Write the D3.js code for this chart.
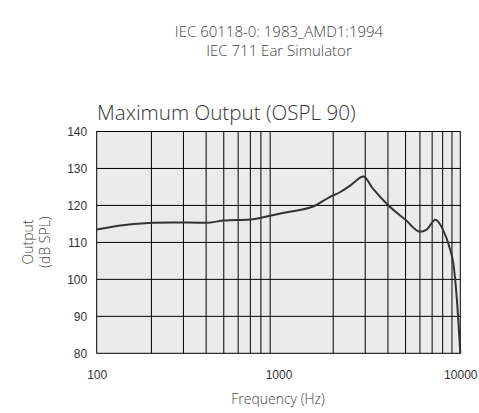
<!DOCTYPE html>
<html>
<head>
<meta charset="utf-8">
<script src="https://cdn.jsdelivr.net/npm/d3@7"></script>
<style>
  body { margin: 0; background: #fff; }
  svg { display: block; }
</style>
</head>
<body>
<svg id="chart" width="479" height="413"></svg>
<script>
// header + title text
var headerLines = ["IEC 60118-0: 1983_AMD1:1994", "IEC 711 Ear Simulator"];
var chartTitle = "Maximum Output (OSPL 90)";

// curve (Hz, dB SPL)
var freqs = [100, 160, 260, 400, 500, 700, 900, 1150, 1550, 1900, 2200, 2500, 2930, 3300, 4000, 5000, 6000, 6500, 7300, 8000, 8800, 9150, 9550, 10000];
var spl   = [113.5, 115.0, 115.4, 115.3, 115.9, 116.2, 117.2, 118.3, 119.7, 122.2, 123.7, 125.5, 127.8, 124.6, 120.1, 116.1, 112.9, 113.4, 116.1, 113.6, 108.0, 104.4, 95.3, 80];

var xTicks = [100, 1000, 10000];
var yTicks = [80, 90, 100, 110, 120, 130, 140];
var xGrid = [200, 300, 400, 500, 600, 700, 800, 900, 2000, 3000, 4000, 5000, 6000, 7000, 8000, 9000];

var svg = d3.select("#chart");
var margin = {left: 96.7, top: 131.5, right: 479 - 460.3, bottom: 413 - 353.3};
var w = 479 - margin.left - margin.right,
    h = 413 - margin.top - margin.bottom;

var x = d3.scaleLog().domain([100, 10000]).range([0, w]);
var y = d3.scaleLinear().domain([80, 140]).range([h, 0]);

var textFont = "'Open Sans', 'Noto Sans', sans-serif";
var tickFont = "'Liberation Sans', Arial, sans-serif";

svg.selectAll("text.header")
  .data(headerLines)
  .enter().append("text")
    .attr("class", "header")
    .attr("x", 279)
    .attr("y", function(d, i) { return 36.5 + i * 19.8; })
    .attr("text-anchor", "middle")
    .style("font-family", textFont)
    .style("font-size", "15px")
    .style("font-weight", 300)
    .style("fill", "#444")
    .text(function(d) { return d; });

svg.append("text")
  .attr("x", 97)
  .attr("y", 120)
  .style("font-family", textFont)
  .style("font-size", "20.6px")
  .style("font-weight", 300)
  .style("fill", "#333")
  .text(chartTitle);

var g = svg.append("g").attr("transform", "translate(" + margin.left + "," + margin.top + ")");

g.append("rect")
  .attr("width", w).attr("height", h)
  .attr("fill", "#ebebeb");

// grid
g.selectAll("line.vgrid")
  .data(xGrid)
  .enter().append("line")
    .attr("class", "vgrid")
    .attr("x1", function(d) { return x(d); })
    .attr("x2", function(d) { return x(d); })
    .attr("y1", 0).attr("y2", h)
    .attr("stroke", "#000").attr("stroke-width", 1);

g.selectAll("line.hgrid")
  .data(yTicks.slice(1, -1))
  .enter().append("line")
    .attr("class", "hgrid")
    .attr("y1", function(d) { return y(d); })
    .attr("y2", function(d) { return y(d); })
    .attr("x1", 0).attr("x2", w)
    .attr("stroke", "#000").attr("stroke-width", 1);

// axes
var xAxis = g.append("g")
  .attr("transform", "translate(0," + h + ")")
  .call(d3.axisBottom(x).tickValues(xTicks).tickFormat(d3.format("d")).tickSize(0).tickPadding(17));
var yAxis = g.append("g")
  .call(d3.axisLeft(y).tickValues(yTicks).tickSize(0).tickPadding(9.5));

[xAxis, yAxis].forEach(function(a) {
  a.select(".domain").remove();
  a.selectAll(".tick line").remove();
  a.selectAll("text")
    .style("font-family", tickFont)
    .style("font-size", "12px")
    .style("fill", "#333");
});

g.append("rect")
  .attr("width", w).attr("height", h)
  .attr("fill", "none")
  .attr("stroke", "#000").attr("stroke-width", 1);

// curve
var line = d3.line()
  .x(function(d) { return x(d[0]); })
  .y(function(d) { return y(d[1]); })
  .curve(d3.curveMonotoneX);

g.append("path")
  .datum(d3.zip(freqs, spl))
  .attr("d", line)
  .attr("fill", "none")
  .attr("stroke", "#333")
  .attr("stroke-width", 2);

// axis titles
svg.append("text")
  .attr("x", 278)
  .attr("y", 404)
  .attr("text-anchor", "middle")
  .style("font-family", textFont)
  .style("font-size", "14px")
  .style("font-weight", 300)
  .style("fill", "#444")
  .text("Frequency (Hz)");

var yLab = svg.append("text")
  .attr("transform", "translate(0,242) rotate(-90)")
  .attr("text-anchor", "middle")
  .style("font-family", textFont)
  .style("font-size", "14px")
  .style("font-weight", 300)
  .style("fill", "#444");
yLab.append("tspan").attr("x", 0).attr("y", 33).text("Output");
yLab.append("tspan").attr("x", 0).attr("y", 50).text("(dB SPL)");
</script>
</body>
</html>
